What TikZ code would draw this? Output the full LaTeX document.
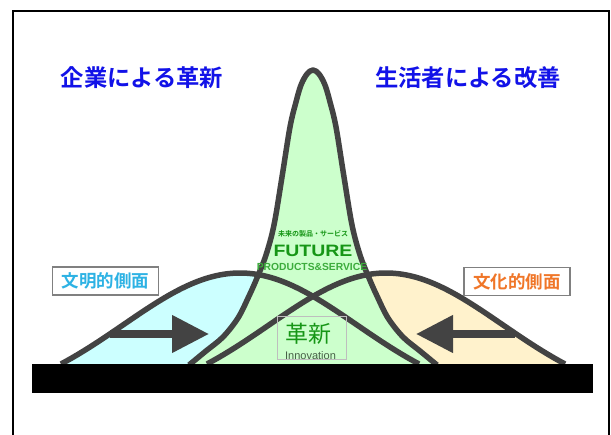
\documentclass[tikz,border=0pt]{standalone}
\usepackage{fontspec}
\usepackage{graphicx}
\setmainfont{Liberation Sans}
\newfontfamily\cjk{Noto Sans CJK JP}[BoldFont={Noto Sans CJK JP Bold}]
\usetikzlibrary{arrows.meta}
\definecolor{linegray}{HTML}{434343}
\definecolor{cyanfill}{HTML}{CCFFFF}
\definecolor{greenfill}{HTML}{CCFFCC}
\definecolor{yellowfill}{HTML}{FFF2CC}
\definecolor{titleblue}{RGB}{18,18,232}
\definecolor{cyantext}{RGB}{45,178,228}
\definecolor{orangetext}{RGB}{240,118,40}
\definecolor{futgreen}{RGB}{22,150,22}
\definecolor{prodgreen}{RGB}{60,172,60}
\definecolor{innogray}{RGB}{70,95,70}
\tikzset{
  curveline/.style={draw=linegray, line width=5.5pt, line join=round},
  arrowline/.style={draw=linegray, line width=7.5pt, -{Triangle[length=37pt,width=36pt]}},
  titletext/.style={text=titleblue, font=\cjk\bfseries\fontsize{23.3}{24}\selectfont, inner sep=0pt},
  sidebox/.style={draw=gray, line width=1.5pt, fill=white, minimum width=106pt, minimum height=28pt, inner sep=0pt, font=\cjk\bfseries\fontsize{17.5}{18}\selectfont},
}
\def\peakpts{(189,365) (206,351) (223,337) (238,318) (249,296) (257,278) (266,255) (274,225) (282,177) (290,127) (296,102) (301,85) (307,74) (313,70) (319,74) (325,85) (330,102) (336,127) (344,177) (352,225) (360,255) (369,278) (377,296) (388,318) (403,337) (420,351) (437,365)}
\begin{document}
\begin{tikzpicture}[x=1pt,y=-1pt]
\useasboundingbox (0,0) rectangle (611,435);
\fill[white] (0,0) rectangle (611,435);
\draw[line width=1.6pt, black] (13,437) -- (13,11) -- (609,11) -- (609,437);

% fills
\fill[cyanfill] plot[domain=61:419,samples=100] (\x,{364-131.5*(exp(-(((\x-240)/165)^2))-0.3082)}) -- cycle;
\fill[yellowfill] plot[domain=207:565,samples=100] (\x,{364-131.5*(exp(-(((\x-386)/165)^2))-0.3082)}) -- cycle;
% broad curve strokes
\draw[curveline] plot[domain=61:419,samples=100] (\x,{364-131.5*(exp(-(((\x-240)/165)^2))-0.3082)});
\draw[curveline] plot[domain=207:565,samples=100] (\x,{364-131.5*(exp(-(((\x-386)/165)^2))-0.3082)});
% central peak
\fill[greenfill] plot[smooth,tension=0.55] coordinates {(189,365) (206,351) (223,337) (238,318) (249,296) (257,278) (266,255) (274,225) (282,177) (290,127) (296,102) (301,85) (307,74) (313,70) (319,74) (325,85) (330,102) (336,127) (344,177) (352,225) (360,255) (369,278) (377,296) (388,318) (403,337) (420,351) (437,365)} -- cycle;
% broad curves inside central region
\begin{scope}
\clip plot[smooth,tension=0.55] coordinates {(189,365) (206,351) (223,337) (238,318) (249,296) (257,278) (266,255) (274,225) (282,177) (290,127) (296,102) (301,85) (307,74) (313,70) (319,74) (325,85) (330,102) (336,127) (344,177) (352,225) (360,255) (369,278) (377,296) (388,318) (403,337) (420,351) (437,365)} -- cycle;
\draw[curveline] plot[domain=61:419,samples=100] (\x,{364-131.5*(exp(-(((\x-240)/165)^2))-0.3082)});
\draw[curveline] plot[domain=207:565,samples=100] (\x,{364-131.5*(exp(-(((\x-386)/165)^2))-0.3082)});
\end{scope}
\draw[curveline] plot[smooth,tension=0.55] coordinates {(189,365) (206,351) (223,337) (238,318) (249,296) (257,278) (266,255) (274,225) (282,177) (290,127) (296,102) (301,85) (307,74) (313,70) (319,74) (325,85) (330,102) (336,127) (344,177) (352,225) (360,255) (369,278) (377,296) (388,318) (403,337) (420,351) (437,365)};

% ground bar
\node[fill=black, minimum width=561pt, minimum height=29pt, inner sep=0pt, outer sep=0pt] (ground) at (312.5,378.5) {};

% arrows
\coordinate (lstart) at (110,334);
\coordinate (lend) at (209,334);
\coordinate (rstart) at (515,334);
\coordinate (rend) at (416,334);
\draw[arrowline] (lstart) -- (lend);
\draw[arrowline] (rstart) -- (rend);

% titles
\node[titletext] (title1) at (142,78) {企業による革新};
\node[titletext] (title2) at (468,78) {生活者による改善};

% side labels
\node[sidebox, text=cyantext] (civil) at (105.5,281) {文明的側面};
\node[sidebox, text=orangetext] (cult) at (517,281.5) {文化的側面};

% future texts
\node[text=futgreen, font=\cjk\bfseries\fontsize{7}{7}\selectfont, inner sep=0pt] (futjp) at (313,234) {未来の製品・サービス};
\node[text=futgreen, font=\bfseries\fontsize{16.5}{17}\selectfont, inner sep=0pt] (future) at (313,251) {\scalebox{1.18}[1]{FUTURE}};
\node[text=prodgreen, font=\bfseries\fontsize{10.3}{11}\selectfont, inner sep=0pt] (prod) at (312,267) {PRODUCTS\&SERVICE};

% innovation box
\node[draw={rgb,255:red,190;green,190;blue,190}, line width=1pt, minimum width=69pt, minimum height=43pt, inner sep=0pt] (innobox) at (311.5,338.5) {};
\node[text=futgreen, font=\cjk\fontsize{23}{24}\selectfont, inner sep=0pt] (kakushin) at (308,334) {革新};
\node[text=innogray, font=\fontsize{11}{11}\selectfont, inner sep=0pt] (inno) at (310.5,356) {Innovation};
\end{tikzpicture}
\end{document}
